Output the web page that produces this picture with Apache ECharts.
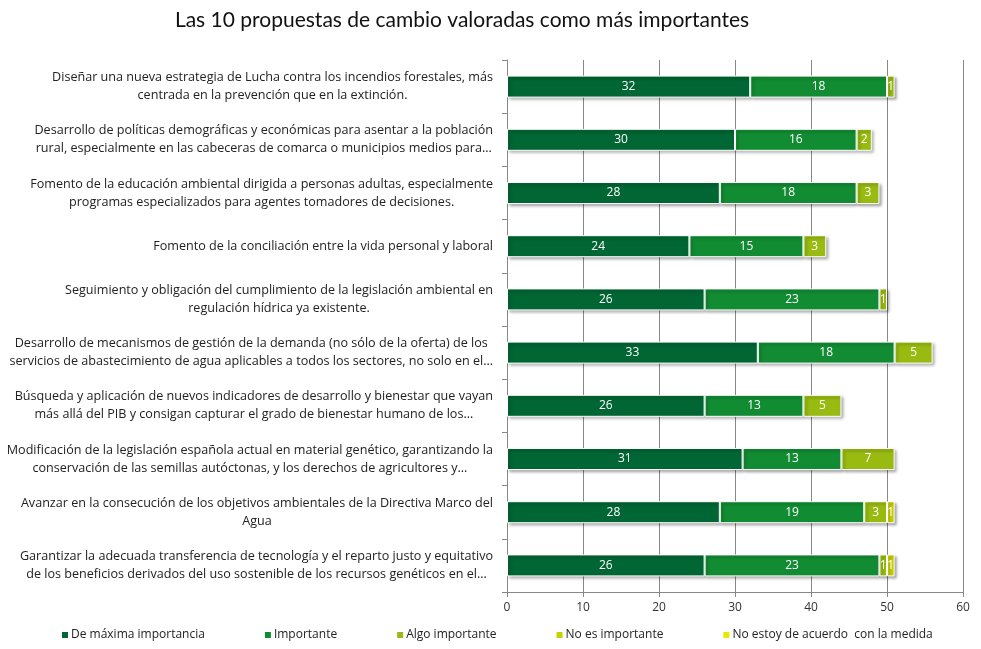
<!DOCTYPE html>
<html lang="es">
<head>
<meta charset="UTF-8">
<title>Las 10 propuestas de cambio</title>
<script src="https://cdn.jsdelivr.net/npm/echarts@6/dist/echarts.min.js"></script>
<style>
  html, body { margin: 0; padding: 0; background: #fff; }
  #chart { width: 981px; height: 649px; }
</style>
</head>
<body>
<div id="chart"></div>
<script>
var propuestas = [
  'Diseñar una nueva estrategia de Lucha contra los incendios forestales, más\ncentrada en la prevención que en la extinción.',
  'Desarrollo de políticas demográficas y económicas para asentar a la población\nrural, especialmente en las cabeceras de comarca o municipios medios para…',
  'Fomento de la educación ambiental dirigida a personas adultas, especialmente\nprogramas especializados para agentes tomadores de decisiones.',
  'Fomento de la conciliación entre la vida personal y laboral',
  'Seguimiento y obligación del cumplimiento de la legislación ambiental en\nregulación hídrica ya existente.',
  'Desarrollo de mecanismos de gestión de la demanda (no sólo de la oferta) de los\nservicios de abastecimiento de agua aplicables a todos los sectores, no solo en el…',
  'Búsqueda y aplicación de nuevos indicadores de desarrollo y bienestar que vayan\nmás allá del PIB y consigan capturar el grado de bienestar humano de los…',
  'Modificación de la legislación española actual en material genético, garantizando la\nconservación de las semillas autóctonas, y los derechos de agricultores y…',
  'Avanzar en la consecución de los objetivos ambientales de la Directiva Marco del\nAgua',
  'Garantizar la adecuada transferencia de tecnología y el reparto justo y equitativo\nde los beneficios derivados del uso sostenible de los recursos genéticos en el…'
];

var maxima      = [32, 30, 28, 24, 26, 33, 26, 31, 28, 26];
var importante  = [18, 16, 18, 15, 23, 18, 13, 13, 19, 23];
var algo        = [1, 2, 3, 3, 1, 5, 5, 7, 3, 1];
var noImport    = [0, 0, 0, 0, 0, 0, 0, 0, 1, 1];
var noAcuerdo   = [0, 0, 0, 0, 0, 0, 0, 0, 0, 0];

var nombres = ['De máxima importancia', 'Importante', 'Algo importante', 'No es importante', 'No estoy de acuerdo  con la medida'];
var colores = ['#006633', '#128c33', '#99bb11', '#c8d000', '#e8e800'];
var valores = [maxima, importante, algo, noImport, noAcuerdo];

var fuente = '"Open Sans", sans-serif';

var series = nombres.map(function (n, i) {
  return {
    name: n,
    type: 'bar',
    stack: 'total',
    barWidth: 22,
    data: valores[i].map(function (v) { return v === 0 ? null : v; }),
    itemStyle: {
      color: colores[i],
      borderColor: '#fff',
      borderWidth: 1,
      shadowColor: 'rgba(0,0,0,0.35)',
      shadowBlur: 3,
      shadowOffsetX: 2,
      shadowOffsetY: 2
    },
    label: {
      show: true,
      position: 'inside',
      color: '#fff',
      fontFamily: fuente,
      fontSize: 12
    }
  };
});

var chart = echarts.init(document.getElementById('chart'));
chart.setOption({
  animation: false,
  title: {
    text: 'Las 10 propuestas de cambio valoradas como más importantes',
    left: 457,
    textAlign: 'center',
    top: 5,
    textStyle: { fontFamily: 'Lato, sans-serif', fontWeight: 'normal', fontSize: 21, color: '#111' }
  },
  legend: {
    bottom: 3,
    left: 55,
    itemWidth: 8,
    itemHeight: 8,
    itemGap: 58,
    icon: 'rect',
    textStyle: { fontFamily: fuente, fontSize: 12, color: '#222', padding: [0, 0, 0, -3] },
    data: nombres
  },
  grid: { left: 507, right: 18, top: 60, bottom: 57 },
  xAxis: {
    type: 'value',
    min: 0,
    max: 60,
    interval: 10,
    axisLine: { show: true, lineStyle: { color: '#888' } },
    axisTick: { show: true, length: 5, lineStyle: { color: '#888' } },
    axisLabel: { fontFamily: fuente, fontSize: 12, color: '#333', margin: 10 },
    splitLine: { show: true, lineStyle: { color: '#888' } }
  },
  yAxis: {
    type: 'category',
    inverse: true,
    data: propuestas,
    axisLine: { show: true, lineStyle: { color: '#888' } },
    axisTick: { show: true, length: 5, lineStyle: { color: '#888' } },
    axisLabel: {
      margin: 14,
      formatter: function (v) { return '{t|' + v.split('\n').join('}\n{t|') + '}'; },
      rich: {
        t: { fontFamily: fuente, fontSize: 12.6, color: '#222', lineHeight: 18, align: 'center' }
      }
    }
  },
  series: series
});
</script>
</body>
</html>
